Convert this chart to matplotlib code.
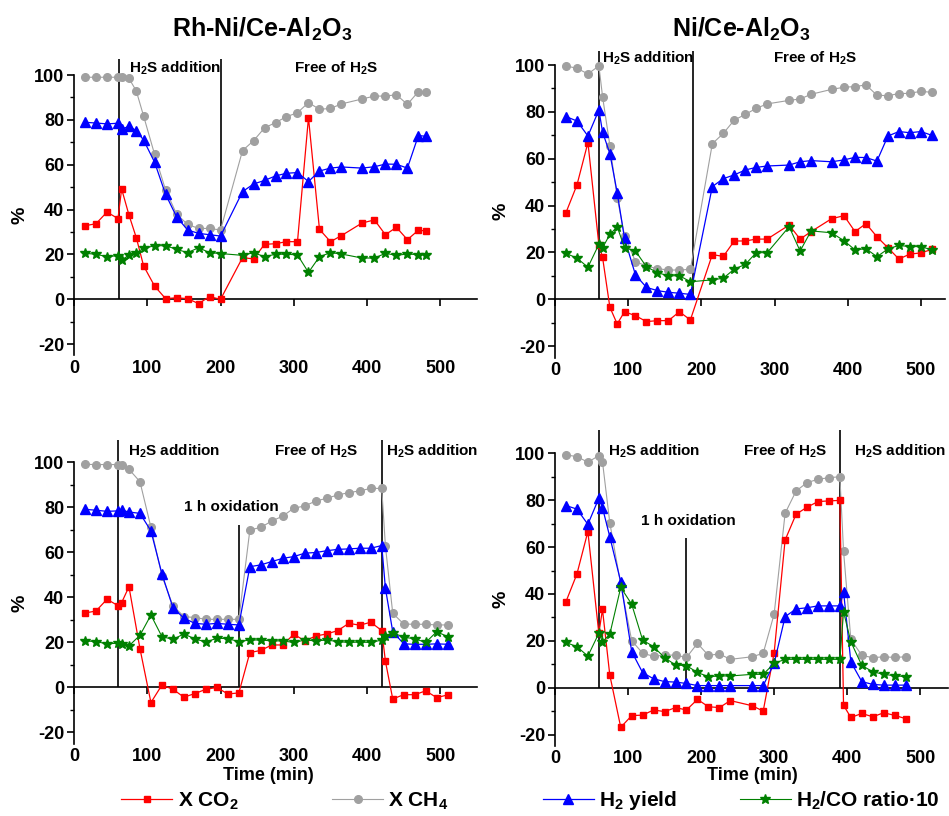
import matplotlib.pyplot as plt
import matplotlib.ticker as mticker

plt.rcParams['font.family'] = ['Liberation Sans', 'DejaVu Sans']
plt.rcParams['font.weight'] = 'bold'
plt.rcParams['axes.labelweight'] = 'bold'
plt.rcParams['axes.unicode_minus'] = False
plt.rcParams['mathtext.fontset'] = 'custom'
plt.rcParams['mathtext.rm'] = 'Liberation Sans:bold'
plt.rcParams['mathtext.it'] = 'Liberation Sans:bold'
plt.rcParams['mathtext.bf'] = 'Liberation Sans:bold'
plt.rcParams['mathtext.default'] = 'rm'

# ---- Rh-Ni/Ce-Al2O3, H2S then free of H2S ----
t_rh1 = [15, 30, 45, 60, 65, 75, 85, 95, 110, 125, 140, 155, 170, 185, 200, 230, 245,
         260, 275, 290, 305, 320, 335, 350, 365, 393, 410, 425, 440, 455, 470, 480]
co2_rh1 = [32.8, 33.7, 38.9, 36, 49.2, 37.6, 27.5, 14.9, 5.9, 0.3, 0.7, 0.3, -1.9, 1.2, 0,
           18.6, 18, 24.5, 24.8, 25.7, 25.7, 81, 31.2, 25.7, 28.4, 34, 35.4, 28.8, 32.1,
           26.6, 30.8, 30.5]
ch4_rh1 = [99, 99, 99, 99, 99, 98.5, 92.9, 81.7, 64.6, 48.7, 38, 33.4, 31.6, 31.6, 30.9,
           66.3, 70.7, 76.4, 78.8, 81.4, 83.2, 87.7, 84.7, 85.1, 87.1, 89.3, 90.6, 90.6,
           91.2, 86.9, 92.6, 92.6]
h2_rh1 = [78.9, 78.6, 78.2, 78.5, 75.9, 77.1, 75.2, 71, 61.1, 46.8, 36.8, 30.9, 29.4, 28.8,
          28.2, 48, 51.4, 53, 55, 56.2, 56.5, 52.5, 57.2, 58.5, 59, 58.5, 59.1, 60.3, 60.2,
          58.5, 73, 72.7]
ratio_rh1 = [20.5, 20.1, 19, 19.5, 17.4, 19.8, 20.8, 22.7, 23.9, 23.9, 22.3, 20.8, 23, 20.8,
             20.4, 19.6, 20.8, 19, 20.1, 20.1, 19.8, 12, 19, 20.8, 20.2, 18.4, 18.4, 20.5,
             19.6, 20.2, 19.9, 19.9]

# ---- Ni/Ce-Al2O3, H2S then free of H2S ----
t_ni1 = [15, 30, 45, 60, 65, 75, 85, 95, 110, 125, 140, 155, 170, 185, 215, 230, 245, 260,
         275, 290, 320, 335, 350, 378, 395, 410, 425, 440, 455, 470, 485, 500, 515]
co2_ni1 = [37, 48.8, 66.9, 23.2, 17.9, -3.4, -10.5, -5.3, -7, -9.5, -9.1, -9.1, -5.3, -8.8,
           19.1, 18.3, 24.9, 24.9, 25.7, 25.7, 31.7, 25.7, 28.9, 34.4, 35.7, 28.9, 32.3,
           26.7, 22, 17.2, 19.3, 19.8, 21.3]
ch4_ni1 = [99.6, 98.6, 96.2, 99.6, 86.5, 65.6, 43.4, 27.2, 16.1, 14.2, 13.1, 12.5, 12.5,
           12.8, 66.4, 70.8, 76.5, 78.9, 81.5, 83.4, 84.9, 85.5, 87.5, 89.6, 90.5, 90.8,
           91.5, 87.1, 86.9, 87.8, 87.9, 88.8, 88.3]
h2_ni1 = [78, 76.1, 69.7, 80.8, 71.4, 62.2, 45.5, 26, 10.4, 5.1, 3.7, 3, 2.6, 2.1, 48.1,
          51.5, 53.1, 55.2, 56.3, 56.9, 57.3, 58.7, 59.2, 58.7, 59.5, 60.6, 60.5, 59, 69.7,
          71.6, 71.1, 71.6, 70]
ratio_ni1 = [19.6, 17.6, 13.7, 23.5, 22, 27.7, 31, 22, 20.6, 13.9, 11.4, 10, 10.1, 7.5, 8.3,
             9, 12.9, 14.9, 19.9, 19.9, 31, 20.6, 29.2, 28.4, 25, 21.1, 21.6, 18.2, 21.5,
             23, 22.5, 22.5, 21.1]

# ---- Rh-Ni/Ce-Al2O3, with 1 h oxidation and second H2S addition ----
t_rh2 = [15, 30, 45, 60, 65, 75, 90, 105, 120, 135, 150, 165, 180, 195, 210, 225, 240, 255,
         270, 285, 300, 315, 330, 345, 360, 375, 390, 405, 420, 425, 435, 450, 465, 480,
         495, 510]
co2_rh2 = [33, 33.9, 39.1, 36.3, 37.6, 44.7, 17.2, -6.8, 1, -0.9, -4.4, -2.8, -0.9, -0.1,
           -3, -2.5, 15.4, 16.4, 18.8, 18.8, 23.6, 20.6, 22.8, 23.7, 25.2, 28.4, 27.6, 28.9,
           25.2, 11.6, -5.2, -3.3, -3.3, -1.6, -4.6, -3.4]
ch4_rh2 = [99.1, 99, 99, 99, 99, 96.9, 91.4, 71.1, 49.5, 36.3, 31.4, 31, 30.2, 30.2, 30.2,
           30.2, 69.9, 71.1, 73.9, 76.1, 79.6, 80.6, 82.8, 84, 85.5, 86.5, 87.3, 88.4, 88.4,
           62.8, 32.9, 28.1, 28, 28, 27.7, 27.7]
h2_rh2 = [79.1, 78.7, 78.2, 78.4, 78.7, 77.9, 77.3, 69.5, 50.4, 35.4, 30.7, 28.4, 28, 28.4,
          28, 27.7, 53.6, 54.4, 55.9, 57.3, 58.1, 59.6, 59.9, 60.7, 61.3, 61.5, 61.8, 61.8,
          63, 44, 24.7, 19.3, 19.1, 19.1, 19.3, 19.1]
ratio_rh2 = [20.6, 20.3, 19.3, 19.6, 19.3, 18.4, 23.1, 32.1, 22.5, 21.3, 23.7, 21.5, 20.1,
             21.8, 21.6, 20.3, 21, 21, 20.6, 20.6, 19.9, 21, 20.6, 21, 20.3, 19.9, 20.1,
             19.9, 21, 22.8, 24.3, 22.2, 21.6, 19.9, 24.7, 22.5]

# ---- Ni/Ce-Al2O3, with 1 h oxidation and second H2S addition ----
t_ni2 = [15, 30, 45, 60, 65, 75, 90, 105, 120, 135, 150, 165, 180, 195, 210, 225, 240, 270,
         285, 300, 315, 330, 345, 360, 375, 390, 395, 405, 420, 435, 450, 465, 480]
co2_ni2 = [36.7, 48.5, 66.6, 23.2, 33.4, 5.4, -16.9, -11.9, -11.7, -9.5, -10.2, -8.5, -9.5,
           -5, -8.1, -8.5, -5.5, -7.7, -10, 14.9, 63, 74, 77, 79.4, 79.7, 79.9, -7.5, -12.7,
           -11, -12.4, -10.7, -11.8, -13.2]
ch4_ni2 = [99.3, 98.6, 96.2, 99, 96.4, 70.4, 44, 20.1, 14.7, 13.4, 13.9, 13.9, 12.9, 18.9,
           13.8, 14.4, 12.1, 13.2, 14.7, 31.4, 74.4, 83.9, 87.5, 88.9, 89.6, 90, 58.3, 20.6,
           13.8, 12.8, 13.2, 12.9, 13.2]
h2_ni2 = [77.7, 76.2, 69.7, 80.8, 76.8, 64.4, 45.2, 15.4, 6.4, 3.8, 2.6, 2.4, 1.8, 0.9, 0.9,
          0.9, 0.9, 0.9, 0.9, 10.4, 30.3, 33.6, 34.1, 34.9, 34.9, 34.9, 41, 11, 2.6, 1.4,
          1.1, 1.1, 1.1]
ratio_ni2 = [19.3, 17.5, 13.5, 23.2, 19.6, 22.8, 42.8, 35.6, 20.3, 17.5, 12.8, 9.7, 9.4, 6.5,
             4.7, 5, 5, 5.7, 5.7, 10.4, 12.1, 12.1, 12.1, 12.1, 12.1, 12.1, 32.4, 19.6, 9.5,
             6.8, 5.7, 5.1, 4.7]

# event markers (time, top of line) and notes (text, x, y)
ev_rh1 = ([62, 200], [107, 107])
ev_ni1 = ([60, 188], [106, 106])
ev_rh2 = ([60, 225, 420], [110, 72, 110])
ev_ni2 = ([60, 180, 390], [110, 64, 110])

H2S_ADD = "H$_2$S addition"
H2S_FREE = "Free of H$_2$S"
OXID = "1 h oxidation"
notes_rh1 = [(H2S_ADD, 75, 103), (H2S_FREE, 300, 103)]
notes_ni1 = [(H2S_ADD, 64, 103), (H2S_FREE, 298, 103)]
notes_rh2 = [(H2S_ADD, 74, 104.7), (H2S_FREE, 273, 104.7), (H2S_ADD, 426, 104.7),
             (OXID, 150, 80)]
notes_ni2 = [(H2S_ADD, 73, 100.7), (H2S_FREE, 257, 100.7), (H2S_ADD, 409, 100.7),
             (OXID, 118, 71)]

RED, GRAY, BLUE, GREEN = "#ff0000", "#a0a0a0", "#0000ff", "#008000"

fig = plt.figure(figsize=(9.49, 8.16), dpi=100)


def panel(rect, xmax, t, co2, ch4, h2, ratio, events, notes):
    ax = fig.add_axes(rect)
    ax.set_xlim(0, xmax)
    ax.set_ylim(-25, 100)
    for s in ["top", "right", "bottom"]:
        ax.spines[s].set_visible(False)
    ax.spines["left"].set_linewidth(1.2)
    ax.set_yticks(range(-20, 101, 20))
    ax.yaxis.set_minor_locator(mticker.MultipleLocator(10))
    ax.tick_params(axis="y", which="major", direction="out", length=5, width=1.2,
                   labelsize=13, pad=2)
    ax.tick_params(axis="y", which="minor", direction="out", length=3, width=1)
    ax.set_xticks(range(0, 501, 100))
    ax.tick_params(axis="x", length=0, labelsize=13, pad=3)
    zero = ax.secondary_xaxis(0.2)
    zero.set_xticks(range(0, 501, 100))
    zero.tick_params(axis="x", direction="out", length=5, width=1.2, labelbottom=False)
    zero.spines["bottom"].set_linewidth(1.2)
    ax.set_ylabel("%", fontsize=14, fontweight="bold", labelpad=4)

    ax.vlines(events[0], 0, events[1], color="black", lw=1.2, clip_on=False, zorder=2)
    lines = [
        ax.plot(t, ch4, color=GRAY, marker="o", ms=5.5, lw=0.8, clip_on=False, zorder=3)[0],
        ax.plot(t, co2, color=RED, marker="s", ms=5, lw=0.9, clip_on=False, zorder=4)[0],
        ax.plot(t, h2, color=BLUE, marker="^", ms=6.5, lw=0.9, clip_on=False, zorder=5)[0],
        ax.plot(t, ratio, color=GREEN, marker="*", ms=7.5, lw=0.8, clip_on=False, zorder=6)[0],
    ]
    for s, x, y in notes:
        ax.text(x, y, s, fontsize=11, ha="left", va="center")
    return ax, lines


W, H = 949, 816
panel([74 / W, 460.6 / H, 403 / W, 280.4 / H], 550,
      t_rh1, co2_rh1, ch4_rh1, h2_rh1, ratio_rh1, ev_rh1, notes_rh1)
panel([555 / W, 458.1 / H, 390 / W, 292.9 / H], 533,
      t_ni1, co2_ni1, ch4_ni1, h2_ni1, ratio_ni1, ev_ni1, notes_ni1)
_, ln = panel([74 / W, 72.5 / H, 403 / W, 281.2 / H], 550,
              t_rh2, co2_rh2, ch4_rh2, h2_rh2, ratio_rh2, ev_rh2, notes_rh2)
panel([555 / W, 69.7 / H, 393 / W, 293 / H], 538,
      t_ni2, co2_ni2, ch4_ni2, h2_ni2, ratio_ni2, ev_ni2, notes_ni2)

fig.text(262 / W, 1 - 37 / H, "Rh-Ni/Ce-Al$_2$O$_3$", fontsize=18, ha="center",
         va="baseline")
fig.text(741 / W, 1 - 37 / H, "Ni/Ce-Al$_2$O$_3$", fontsize=18, ha="center",
         va="baseline")
fig.text(268 / W, 1 - 776 / H, "Time (min)", fontsize=13, ha="center", va="center")
fig.text(752 / W, 1 - 776 / H, "Time (min)", fontsize=13, ha="center", va="center")

leg_kw = dict(loc="center", ncol=2, frameon=False, fontsize=15, handlelength=2.45,
              handletextpad=0.25, borderpad=0, borderaxespad=0)
fig.legend([ln[1], ln[0]], ["X CO$_2$", "X CH$_4$"],
           bbox_to_anchor=(285 / W, 1 - 801 / H), columnspacing=4.5, **leg_kw)
fig.legend([ln[2], ln[3]], ["H$_2$ yield", "H$_2$/CO ratio·10"],
           bbox_to_anchor=(741 / W, 1 - 801 / H), columnspacing=3.0, **leg_kw)

fig.savefig("out.png", dpi=100)
